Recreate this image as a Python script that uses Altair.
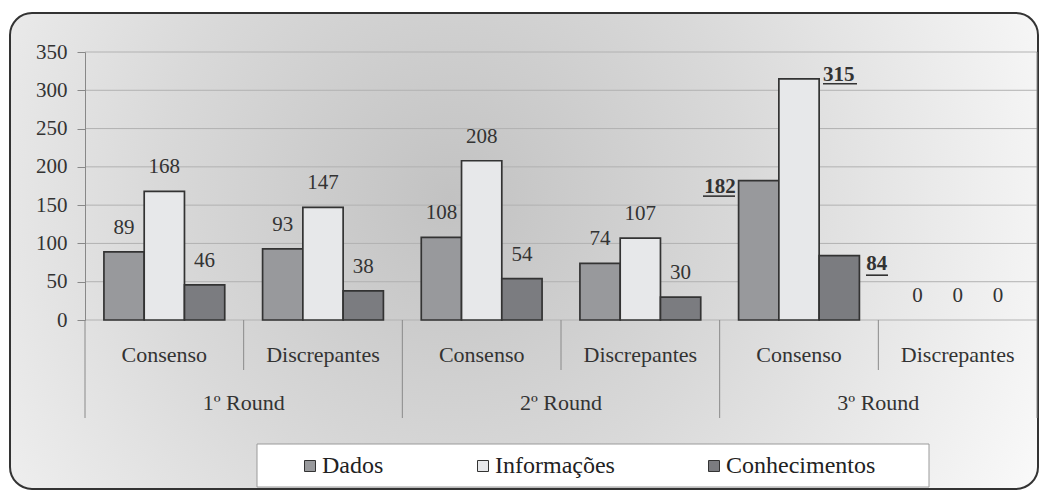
import altair as alt
import pandas as pd

# ---------------- data ----------------
rounds = ["1º Round", "1º Round", "2º Round", "2º Round", "3º Round", "3º Round"]
subs = ["Consenso", "Discrepantes", "Consenso", "Discrepantes", "Consenso", "Discrepantes"]
series = ["Dados", "Informações", "Conhecimentos"]
dados = [89, 93, 108, 74, 182, 0]
informacoes = [168, 147, 208, 107, 315, 0]
conhecimentos = [46, 38, 54, 30, 84, 0]
y_ticks = [0, 50, 100, 150, 200, 250, 300, 350]
highlight_key = "3º Round|Consenso"

colors = ["#98999c", "#e7e8ea", "#7b7c80"]

# ---------------- tables ----------------
keys = [f"{r}|{s}" for r, s in zip(rounds, subs)]
rows = []
for vals, s in zip([dados, informacoes, conhecimentos], series):
    for k, r, sb, v in zip(keys, rounds, subs, vals):
        rows.append({"key": k, "round": r, "sub": sb, "series": s, "value": v})
df = pd.DataFrame(rows)
bands = pd.DataFrame({"key": keys, "round": rounds, "sub": subs})
ticks = pd.DataFrame({"t": y_ticks})
one = pd.DataFrame({"a": [0]})

W, H = 952, 268
FONT = "Liberation Serif"
TXT = "#333333"

xscale = alt.Scale(domain=keys, paddingInner=0, paddingOuter=0)
xoff_scale = alt.Scale(domain=series, paddingInner=0, paddingOuter=0.47)
yscale = alt.Scale(domain=[0, 350], nice=False)
yaxis = alt.Axis(values=y_ticks, grid=False, title=None, labelFont=FONT,
                 labelFontSize=21, labelColor=TXT, tickColor="#888888",
                 tickSize=8, domainColor="#888888", labelPadding=10, zindex=1)


def X(**kw):
    return alt.X("key:N", scale=xscale, axis=None, sort=keys, **kw)


def XO():
    return alt.XOffset("series:N", scale=xoff_scale, sort=series)


def Y(field):
    return alt.Y(field, type="quantitative", scale=yscale, axis=yaxis)


# ---------------- decorations ----------------
grad = alt.RadialGradient(
    gradient="radial",
    x1=0.43, y1=0.45, r1=0.0,
    x2=0.43, y2=0.45, r2=0.64,
    stops=[
        alt.GradientStop(color="#c2c2c2", offset=0.0),
        alt.GradientStop(color="#d9d9d9", offset=0.45),
        alt.GradientStop(color="#fafafa", offset=1.0),
    ],
)
frame = alt.Chart(one).mark_rect(
    fill=grad, stroke="#333333", strokeWidth=2, cornerRadius=22
).encode(x=alt.value(-75), x2=alt.value(953), y=alt.value(-39), y2=alt.value(437))

legend_box = alt.Chart(one).mark_rect(
    fill="white", stroke="#9a9a9a", strokeWidth=1
).encode(x=alt.value(172), x2=alt.value(844), y=alt.value(392), y2=alt.value(435))

grid = alt.Chart(ticks).mark_rule(color="#b2b2b2", strokeWidth=1).encode(
    y=Y("t"), x=alt.value(0), x2=alt.value(W)
)

sub_sep = alt.Chart(bands).transform_filter(
    alt.datum.sub == "Discrepantes"
).mark_rule(color="#8a8a8a", strokeWidth=1).encode(
    x=X(bandPosition=0), y=alt.value(H), y2=alt.value(318)
)
round_sep = alt.Chart(bands).transform_filter(
    alt.datum.sub == "Consenso"
).mark_rule(color="#8a8a8a", strokeWidth=1).encode(
    x=X(bandPosition=0), y=alt.value(H), y2=alt.value(366)
)
right_edge = alt.Chart(bands).transform_filter(
    alt.datum.key == keys[-1]
).mark_rule(color="#8a8a8a", strokeWidth=1).encode(
    x=X(bandPosition=1), y=alt.value(0), y2=alt.value(366)
)

# ---------------- bars ----------------
bars = alt.Chart(df).mark_bar(stroke="#333333", strokeWidth=1.7).encode(
    x=X(),
    xOffset=XO(),
    y=Y("value"),
    strokeOpacity=alt.condition(alt.datum.value > 0, alt.value(1), alt.value(0)),
    color=alt.Color(
        "series:N",
        scale=alt.Scale(domain=series, range=colors),
        sort=series,
        legend=alt.Legend(
            orient="none", legendX=213, legendY=402, direction="horizontal",
            title=None, labelFont=FONT, labelFontSize=24, labelColor="#222222",
            symbolType="square", symbolSize=121, symbolStrokeColor="#333333",
            symbolStrokeWidth=1, symbolOpacity=1, columnPadding=87,
            labelOffset=0, padding=0, zindex=1,
        ),
    ),
)

labels = alt.Chart(df).transform_filter(
    alt.datum.key != highlight_key
).mark_text(
    font=FONT, fontSize=21, color=TXT, baseline="alphabetic", dy=-18
).encode(x=X(), xOffset=XO(), y=Y("value"), text="value:Q")


def special(s, align, dx, dy):
    return alt.Chart(df).transform_filter(
        (alt.datum.key == highlight_key) & (alt.datum.series == s)
    ).mark_text(
        font=FONT, fontSize=21, fontWeight="bold", color=TXT,
        baseline="alphabetic", align=align, dx=dx, dy=dy
    ).encode(x=X(), xOffset=XO(), y=Y("value"), text="value:Q")


def underline(s, x0, x1, yo):
    return alt.Chart(df).transform_filter(
        (alt.datum.key == highlight_key) & (alt.datum.series == s)
    ).mark_rule(
        color=TXT, strokeWidth=1.6, xOffset=x0, x2Offset=x1, yOffset=yo
    ).encode(x=X(), x2=alt.X2("key:N"), y=Y("value"))


sp1 = special("Dados", "right", -23, 12)
sp2 = special("Informações", "left", 24, 2)
sp3 = special("Conhecimentos", "left", 27, 14)
ul1 = underline("Dados", -96, -64, 15.5)
ul2 = underline("Informações", 24, 58, 5)
ul3 = underline("Conhecimentos", 67, 89, 19.5)

sub_text = alt.Chart(bands).mark_text(
    font=FONT, fontSize=22, color=TXT, baseline="alphabetic"
).encode(x=X(), y=alt.value(310), text="sub:N")

round_text = alt.Chart(bands).transform_filter(
    alt.datum.sub == "Consenso"
).mark_text(
    font=FONT, fontSize=22, color=TXT, baseline="alphabetic"
).encode(x=X(bandPosition=1), y=alt.value(358), text="round:N")

chart = alt.layer(
    frame, legend_box, grid, sub_sep, round_sep, right_edge,
    bars, labels, sp1, sp2, sp3, ul1, ul2, ul3, sub_text, round_text
).properties(
    width=W, height=H,
    autosize=alt.AutoSizeParams(type="none"),
    padding={"left": 77, "top": 44, "right": 2, "bottom": 172},
).configure_view(stroke=None)

chart.save("out.html", embed_options={"renderer": "svg", "actions": False})
